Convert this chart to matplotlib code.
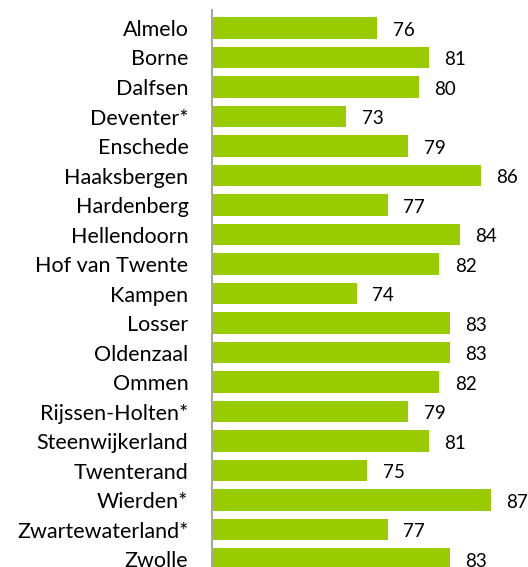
import matplotlib
matplotlib.use("Agg")
import matplotlib.pyplot as plt

# Gemeenten en scores
gemeenten = ["Almelo", "Borne", "Dalfsen", "Deventer*", "Enschede", "Haaksbergen",
             "Hardenberg", "Hellendoorn", "Hof van Twente", "Kampen", "Losser",
             "Oldenzaal", "Ommen", "Rijssen-Holten*", "Steenwijkerland", "Twenterand",
             "Wierden*", "Zwartewaterland*", "Zwolle"]
scores = [76, 81, 80, 73, 79, 86, 77, 84, 82, 74, 83, 83, 82, 79, 81, 75, 87, 77, 83]

plt.rcParams["font.family"] = ["Lato", "DejaVu Sans"]

W, H = 528, 567
fig = plt.figure(figsize=(W / 100, H / 100), dpi=100)
# axes from x=212 to 522 px, y=10 to bottom edge
ax = fig.add_axes([212 / W, 0, 310 / W, (H - 10) / H])

pos = list(range(len(gemeenten)))
ax.barh(pos, [s - 60 for s in scores], left=60, height=0.73, color="#99CC00")

for p, s in zip(pos, scores):
    ax.text(s + 1.5, p + 0.08, str(s), va="center", ha="left", fontsize=13.5, color="#000000")

ax.set_xlim(60, 90)
ax.set_ylim(18.27, -0.61)
ax.set_yticks(pos)
ax.set_yticklabels(gemeenten, fontsize=15.5)
ax.tick_params(axis="y", length=0, pad=17)
ax.set_xticks([])

for side in ["top", "right", "bottom"]:
    ax.spines[side].set_visible(False)
ax.spines["left"].set_color("#A6A6A6")
ax.spines["left"].set_linewidth(1.5)

fig.savefig("out.png", dpi=100)
